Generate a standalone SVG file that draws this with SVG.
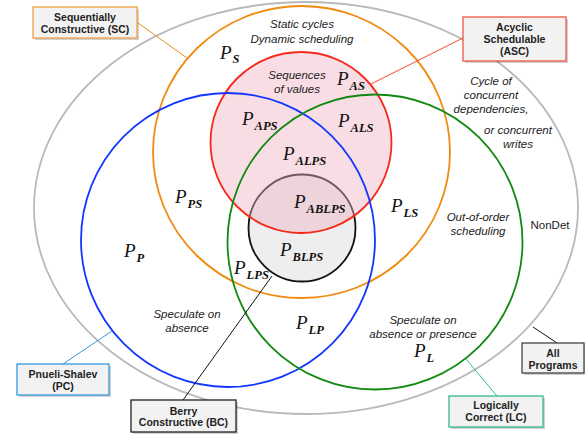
<svg xmlns="http://www.w3.org/2000/svg" width="585" height="434" viewBox="0 0 585 434">
  <style>
    .set { fill: none; stroke-width: 1.8; }
    .note { font-family: "Liberation Sans", Arial, sans-serif; font-style: italic; font-size: 11.5px; fill: #222; text-anchor: middle; }
    .plain { font-family: "Liberation Sans", Arial, sans-serif; font-size: 11.5px; fill: #222; text-anchor: middle; }
    .p { font-family: "Liberation Serif", "Times New Roman", serif; font-style: italic; font-size: 19px; fill: #111; }
    .sub { font-weight: bold; font-size: 12.5px; }
    .box { fill: #f2f2f2; stroke-width: 1.3; }
    .shadow { fill: #000; opacity: 0.18; }
    .boxtext { font-family: "Liberation Sans", Arial, sans-serif; font-weight: bold; font-size: 10.5px; fill: #222; text-anchor: middle; }
    .link { stroke-width: 1; fill: none; }
  </style>

  <!-- set outlines -->
  <g id="sets">
    <ellipse id="all" cx="306" cy="208" rx="272" ry="206" class="set" stroke="#b9b9b9" stroke-width="1.6"/>
    <ellipse id="sc" cx="301.5" cy="152" rx="148.5" ry="146" class="set" stroke="#f08a10"/>
    <circle id="bc" cx="302" cy="228" r="53.5" fill="#eeeeee" stroke="#111" stroke-width="1.8"/>
    <circle id="asc" cx="301" cy="142.5" r="90.5" fill="#f1b2c1" fill-opacity="0.44" stroke="#f52a1a" stroke-width="1.8"/>
    <circle id="pc" cx="228" cy="240" r="147" class="set" stroke="#1238ff"/>
    <circle id="lc" cx="375" cy="242" r="147.5" class="set" stroke="#128a12"/>
  </g>

  <!-- callout connectors -->
  <g id="connectors">
    <line class="link" x1="138" y1="23" x2="187" y2="58" stroke="#ea8a20"/>
    <line class="link" x1="463" y1="38" x2="371" y2="84" stroke="#f04a38"/>
    <line class="link" x1="63" y1="364" x2="112" y2="331" stroke="#3399dd"/>
    <line class="link" x1="183" y1="400" x2="272" y2="276" stroke="#111"/>
    <line class="link" x1="557" y1="343" x2="533" y2="327" stroke="#111"/>
    <line class="link" x1="497" y1="396" x2="466" y2="359" stroke="#33bb88"/>
  </g>

  <!-- callout boxes -->
  <g id="label-sc">
    <rect class="shadow" x="35" y="9" width="104" height="31"/>
    <rect class="box" x="33" y="7" width="104" height="31" stroke="#f0a040"/>
    <text class="boxtext" x="85" y="20.5">Sequentially</text>
    <text class="boxtext" x="85" y="32.5">Constructive (SC)</text>
  </g>
  <g id="label-asc">
    <rect class="shadow" x="465" y="19" width="103" height="44"/>
    <rect class="box" x="463" y="17" width="103" height="44" stroke="#ee5544"/>
    <text class="boxtext" x="514.5" y="30.5">Acyclic</text>
    <text class="boxtext" x="514.5" y="42.5">Schedulable</text>
    <text class="boxtext" x="514.5" y="55">(ASC)</text>
  </g>
  <g id="label-pc">
    <rect class="shadow" x="19" y="366" width="92" height="31"/>
    <rect class="box" x="17" y="364" width="92" height="31" stroke="#3399dd"/>
    <text class="boxtext" x="63" y="377.5">Pnueli-Shalev</text>
    <text class="boxtext" x="63" y="389.5">(PC)</text>
  </g>
  <g id="label-bc">
    <rect class="shadow" x="133" y="402" width="105" height="32"/>
    <rect class="box" x="131" y="400" width="105" height="32" stroke="#222"/>
    <text class="boxtext" x="183.5" y="414.5">Berry</text>
    <text class="boxtext" x="183.5" y="426">Constructive (BC)</text>
  </g>
  <g id="label-all">
    <rect class="shadow" x="524" y="345" width="62" height="30"/>
    <rect class="box" x="522" y="343" width="62" height="30" stroke="#444"/>
    <text class="boxtext" x="553" y="357">All</text>
    <text class="boxtext" x="553" y="368.5">Programs</text>
  </g>
  <g id="label-lc">
    <rect class="shadow" x="451" y="398" width="94" height="31"/>
    <rect class="box" x="449" y="396" width="94" height="31" stroke="#33bb88"/>
    <text class="boxtext" x="496" y="409">Logically</text>
    <text class="boxtext" x="496" y="421">Correct (LC)</text>
  </g>

  <!-- region descriptions -->
  <g id="notes">
    <text class="note" x="302" y="28">Static cycles</text>
    <text class="note" x="302" y="43">Dynamic scheduling</text>
    <text class="note" x="297" y="79">Sequences</text>
    <text class="note" x="297" y="93">of values</text>
    <text class="note" x="491" y="85">Cycle of</text>
    <text class="note" x="491" y="99">concurrent</text>
    <text class="note" x="491" y="113">dependencies,</text>
    <text class="note" x="518" y="134">or concurrent</text>
    <text class="note" x="518" y="148">writes</text>
    <text class="note" x="478" y="221">Out-of-order</text>
    <text class="note" x="478" y="235">scheduling</text>
    <text class="plain" x="550" y="229">NonDet</text>
    <text class="note" x="187" y="318">Speculate on</text>
    <text class="note" x="187" y="332">absence</text>
    <text class="note" x="423" y="324">Speculate on</text>
    <text class="note" x="423" y="338">absence or presence</text>
  </g>

  <!-- region names -->
  <g id="regions">
    <text class="p" x="220" y="59">P<tspan class="sub" dx="1" dy="4">S</tspan></text>
    <text class="p" x="337" y="85">P<tspan class="sub" dx="1" dy="5">AS</tspan></text>
    <text class="p" x="242" y="125">P<tspan class="sub" dx="1" dy="5">APS</tspan></text>
    <text class="p" x="338" y="127">P<tspan class="sub" dx="1" dy="5">ALS</tspan></text>
    <text class="p" x="283" y="160">P<tspan class="sub" dx="1" dy="5">ALPS</tspan></text>
    <text class="p" x="294" y="208">P<tspan class="sub" dx="1" dy="5">ABLPS</tspan></text>
    <text class="p" x="280" y="256">P<tspan class="sub" dx="1" dy="5">BLPS</tspan></text>
    <text class="p" x="234" y="274">P<tspan class="sub" dx="1" dy="5">LPS</tspan></text>
    <text class="p" x="175" y="203">P<tspan class="sub" dx="1" dy="5">PS</tspan></text>
    <text class="p" x="124" y="257">P<tspan class="sub" dx="1" dy="5">P</tspan></text>
    <text class="p" x="391" y="212">P<tspan class="sub" dx="1" dy="5">LS</tspan></text>
    <text class="p" x="296" y="329">P<tspan class="sub" dx="1" dy="5">LP</tspan></text>
    <text class="p" x="414" y="357">P<tspan class="sub" dx="1" dy="5">L</tspan></text>
  </g>
</svg>
